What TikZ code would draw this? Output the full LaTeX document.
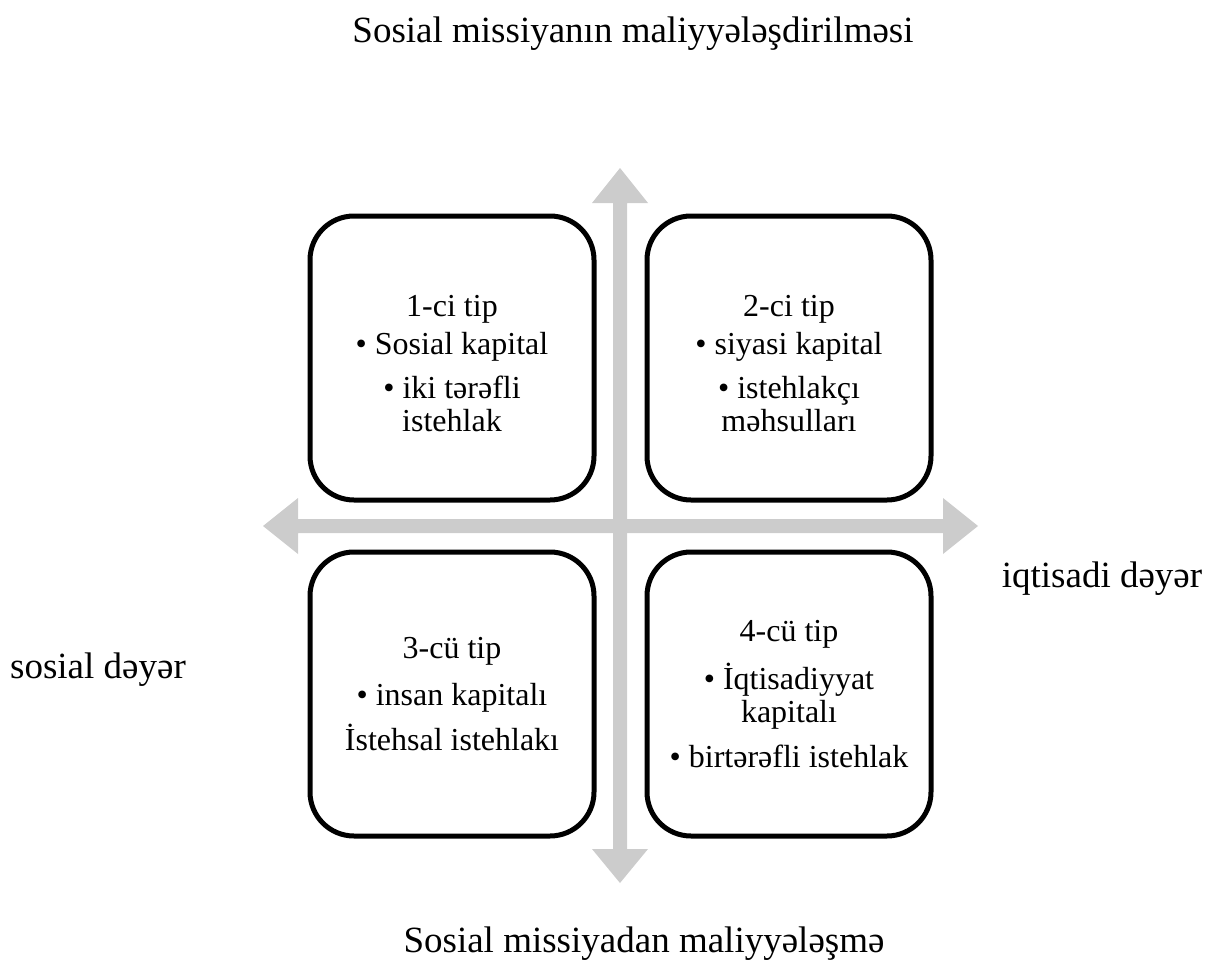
\documentclass[tikz,border=0pt]{standalone}
\usepackage{fontspec}
\setmainfont{Liberation Serif}

\tikzset{every picture/.style={line width=0.75pt}}
\tikzset{
  quadline/.style={line width=3.75pt, rounded corners=33pt, fill=white},
  axisfill/.style={fill={rgb, 255:red, 204; green, 204; blue, 204 }, draw opacity=0},
  sidetext/.style={anchor=base, inner sep=0.75pt, font=\fontsize{27.75}{31.9}\selectfont},
  quadtext/.style={anchor=base, inner sep=0.75pt, align=center, font=\fontsize{24}{24.75}\selectfont}
}

\begin{document}
\begin{tikzpicture}[x=0.75pt,y=0.75pt,yscale=-1,xscale=1]
\useasboundingbox (0,0) rectangle (1211,960);

%Shape: Up Down Arrow [id:vaxis]
\fill [axisfill] (620,168) -- (648,203) -- (627,203) -- (627,849) -- (648,849) -- (620,883) -- (592,849) -- (613,849) -- (613,203) -- (592,203) -- cycle ;
%Shape: Left Right Arrow [id:haxis]
\fill [axisfill] (263,526) -- (298,498) -- (298,519) -- (943,519) -- (943,498) -- (978,526) -- (943,554) -- (943,533) -- (298,533) -- (298,554) -- cycle ;

%Shape: Rounded Rect [id:quad1]
\draw [quadline] (310,216) rectangle (594,500) ;
%Shape: Rounded Rect [id:quad2]
\draw [quadline] (647,216) rectangle (931,500) ;
%Shape: Rounded Rect [id:quad3]
\draw [quadline] (310,552) rectangle (594,836) ;
%Shape: Rounded Rect [id:quad4]
\draw [quadline] (647,552) rectangle (931,836) ;

% Text Node
\draw (452,431) node [quadtext] (tip1) {1-ci tip\\[3.75pt]• Sosial kapital\\[8.25pt]• iki tərəfli\\istehlak};
% Text Node
\draw (789,431) node [quadtext] (tip2) {2-ci tip\\[3.75pt]• siyasi kapital\\[8.25pt]• istehlakçı\\məhsulları};
% Text Node
\draw (452,750) node [quadtext] (tip3) {3-cü tip\\[10.5pt]• insan kapitalı\\[7.5pt]İstehsal istehlakı};
% Text Node
\draw (789,767) node [quadtext] (tip4) {4-cü tip\\[9.75pt]• İqtisadiyyat\\kapitalı\\[9pt]• birtərəfli istehlak};

% Text Node
\draw (633,42) node [sidetext] (maliyyeup) {Sosial missiyanın maliyyələşdirilməsi};
% Text Node
\draw (644,952) node [sidetext] (maliyyedown) {Sosial missiyadan maliyyələşmə};
% Text Node
\draw (98,678) node [sidetext] (sosialdeyer) {sosial dəyər};
% Text Node
\draw (1102,587) node [sidetext] (iqtisadideyer) {iqtisadi dəyər};

\end{tikzpicture}
\end{document}
